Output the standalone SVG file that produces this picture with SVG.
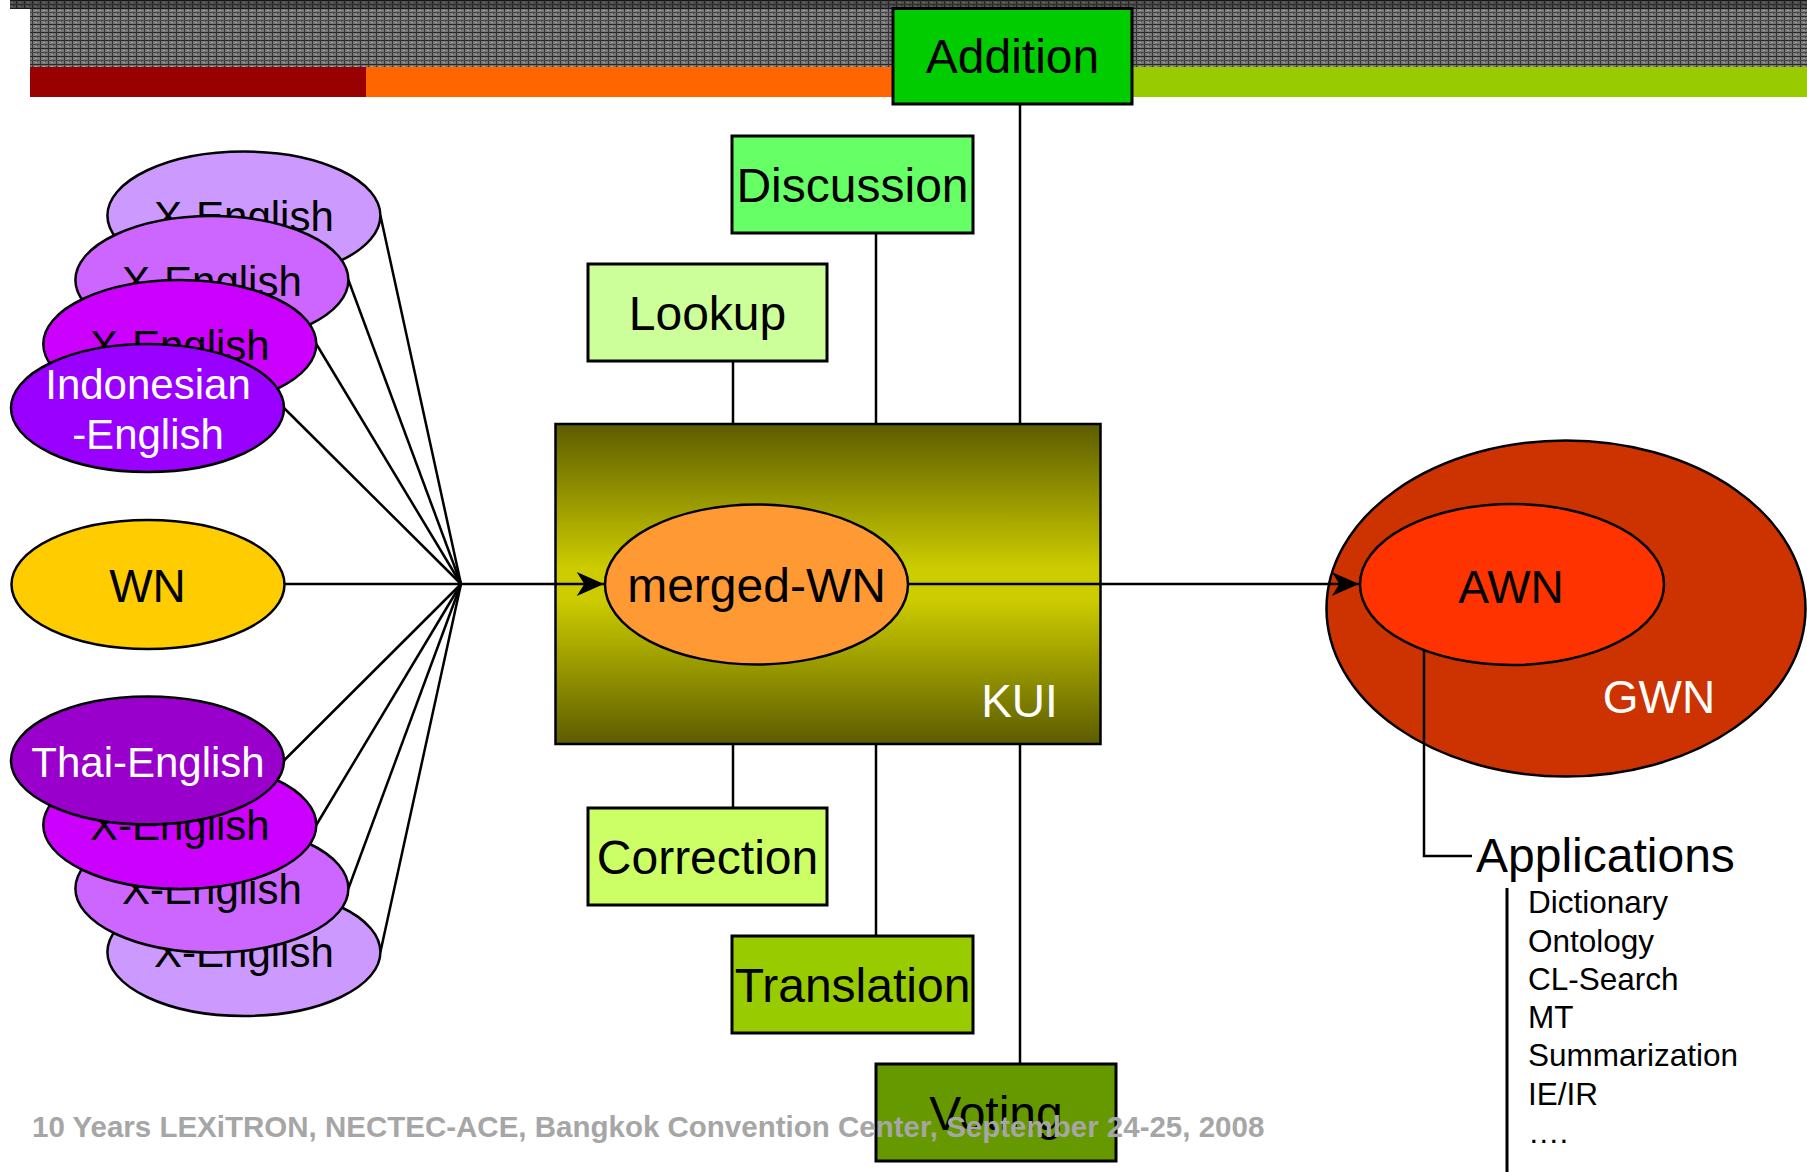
<svg xmlns="http://www.w3.org/2000/svg" width="1807" height="1172" viewBox="0 0 1807 1172">
<style>
.lbl{font-family:"Liberation Sans",Arial,sans-serif;text-anchor:middle}
.b48{font-size:48px;fill:#000}
.e42{font-size:42px}
.box{stroke:#000;stroke-width:3}
.ell{stroke:#000;stroke-width:2.5}
.con{stroke:#000;stroke-width:2.5;fill:none}
.app{font-family:"Liberation Sans",Arial,sans-serif;font-size:31.5px;fill:#000}
</style>
<defs>
<pattern id="tex" width="8" height="8" patternUnits="userSpaceOnUse">
<rect width="8" height="8" fill="#767676"/>
<rect width="8" height="1" fill="#262626"/>
<rect width="1" height="8" fill="#333333"/>
<rect y="4" width="8" height="1" fill="#4a4a4a"/>
<rect x="3" y="2" width="2" height="1" fill="#aaaaaa"/>
<rect x="3" y="6" width="2" height="1" fill="#a0a0a0"/>
<rect x="5" y="5" width="1" height="1" fill="#404040"/>
</pattern>
<linearGradient id="kui" x1="0" y1="0" x2="0" y2="1">
<stop offset="0" stop-color="#5c5c00"/>
<stop offset="0.45" stop-color="#cccc00"/>
<stop offset="0.55" stop-color="#cccc00"/>
<stop offset="1" stop-color="#5c5c00"/>
</linearGradient>
<marker id="arr" markerUnits="userSpaceOnUse" markerWidth="30" markerHeight="24" viewBox="0 0 26 22" refX="25" refY="11" orient="auto">
<path d="M0,0 L25,11 L0,22 L7,11 z" fill="#000"/>
</marker>
</defs>

<g id="header">
<rect x="10" y="0" width="1797" height="9" fill="url(#tex)"/>
<rect x="10" y="0" width="1797" height="9" fill="#000" opacity="0.35"/>
<rect x="30" y="9" width="1777" height="58" fill="url(#tex)"/>
<rect x="30" y="67" width="336" height="30" fill="#990000"/>
<rect x="366" y="67" width="527" height="30" fill="#ff6600"/>
<rect x="1133" y="67" width="674" height="30" fill="#99cc00"/>
</g>

<g id="kui">
<rect x="555.5" y="424" width="545" height="320" fill="url(#kui)" stroke="#000" stroke-width="2.5"/>
<text class="lbl" x="1019.5" y="717" font-size="46" fill="#fff">KUI</text>
</g>

<g id="gwn">
<ellipse cx="1566" cy="608.5" rx="239.5" ry="168" fill="#cc3300" class="ell"/>
<text class="lbl" x="1659" y="713" font-size="46" fill="#fff">GWN</text>
</g>

<g id="connectors">
<line class="con" x1="380.4" y1="215.5" x2="461" y2="584"/>
<line class="con" x1="348.4" y1="280" x2="461" y2="584"/>
<line class="con" x1="316.3" y1="344" x2="461" y2="584"/>
<line class="con" x1="284" y1="408" x2="461" y2="584"/>
<line class="con" x1="380.4" y1="952" x2="461" y2="584"/>
<line class="con" x1="348.4" y1="888.5" x2="461" y2="584"/>
<line class="con" x1="316.3" y1="825" x2="461" y2="584"/>
<line class="con" x1="284" y1="760.5" x2="461" y2="584"/>
<line class="con" x1="284.5" y1="584" x2="461" y2="584"/>
<line class="con" x1="461" y1="584" x2="604" y2="584" marker-end="url(#arr)"/>
<line class="con" x1="908" y1="584" x2="1359" y2="584" marker-end="url(#arr)"/>
<line class="con" x1="1020" y1="104" x2="1020" y2="424"/>
<line class="con" x1="876" y1="233" x2="876" y2="424"/>
<line class="con" x1="733" y1="361" x2="733" y2="424"/>
<line class="con" x1="733" y1="744" x2="733" y2="808"/>
<line class="con" x1="876" y1="744" x2="876" y2="936"/>
<line class="con" x1="1020" y1="744" x2="1020" y2="1064"/>
<path class="con" d="M1424,650 V856 H1472"/>
<line x1="1507" y1="888" x2="1507" y2="1172" stroke="#000" stroke-width="3"/>
</g>

<g id="addition">
<rect class="box" x="893" y="8.5" width="239" height="95.5" fill="#00cc00"/>
<text class="lbl b48" x="1012.5" y="73">Addition</text>
</g>
<g id="discussion">
<rect class="box" x="732" y="136" width="241" height="97" fill="#66ff66"/>
<text class="lbl b48" x="852.5" y="202">Discussion</text>
</g>
<g id="lookup">
<rect class="box" x="588" y="264" width="239" height="97" fill="#ccff99"/>
<text class="lbl b48" x="707.5" y="330">Lookup</text>
</g>
<g id="correction">
<rect class="box" x="588" y="808" width="239" height="97" fill="#ccff66"/>
<text class="lbl b48" x="707.5" y="874">Correction</text>
</g>
<g id="translation">
<rect class="box" x="732" y="936" width="241" height="97" fill="#99cc00"/>
<text class="lbl b48" x="852.5" y="1002">Translation</text>
</g>
<g id="voting">
<rect class="box" x="876" y="1064" width="240" height="97" fill="#669900"/>
<text class="lbl b48" x="996" y="1130">Voting</text>
</g>

<g id="merged-wn">
<ellipse class="ell" cx="756.5" cy="584.5" rx="151.5" ry="80" fill="#ff9933"/>
<text class="lbl b48" x="756.5" y="602">merged-WN</text>
</g>

<g id="awn">
<ellipse class="ell" cx="1512" cy="584.5" rx="152" ry="80.5" fill="#ff3300"/>
<text class="lbl" x="1511" y="602.5" font-size="46" fill="#000">AWN</text>
</g>

<g id="x-english-top-4">
<ellipse class="ell" cx="243.9" cy="215.5" rx="136.5" ry="64" fill="#cc99ff"/>
<text class="lbl e42" x="243.9" y="231" fill="#000">X-English</text>
</g>
<g id="x-english-top-3">
<ellipse class="ell" cx="211.9" cy="280" rx="136.5" ry="64" fill="#cc66ff"/>
<text class="lbl e42" x="211.9" y="295.5" fill="#000">X-English</text>
</g>
<g id="x-english-top-2">
<ellipse class="ell" cx="179.8" cy="344" rx="136.5" ry="64" fill="#cc00ff"/>
<text class="lbl e42" x="179.8" y="359.5" fill="#000">X-English</text>
</g>
<g id="indonesian-english">
<ellipse class="ell" cx="147.5" cy="408" rx="136.5" ry="64" fill="#9900ff"/>
<text class="lbl e42" x="148" y="399" fill="#fff">Indonesian</text>
<text class="lbl e42" x="148" y="449" fill="#fff">-English</text>
</g>

<g id="wn">
<ellipse class="ell" cx="148" cy="584.5" rx="136.5" ry="64.5" fill="#ffcc00"/>
<text class="lbl" x="147.5" y="601.5" font-size="46" fill="#000">WN</text>
</g>

<g id="x-english-bottom-4">
<ellipse class="ell" cx="243.9" cy="952" rx="136.5" ry="64" fill="#cc99ff"/>
<text class="lbl e42" x="243.9" y="967" fill="#000">X-English</text>
</g>
<g id="x-english-bottom-3">
<ellipse class="ell" cx="211.9" cy="888.5" rx="136.5" ry="64" fill="#cc66ff"/>
<text class="lbl e42" x="211.9" y="903.5" fill="#000">X-English</text>
</g>
<g id="x-english-bottom-2">
<ellipse class="ell" cx="179.8" cy="825" rx="136.5" ry="64" fill="#cc00ff"/>
<text class="lbl e42" x="179.8" y="840" fill="#000">X-English</text>
</g>
<g id="thai-english">
<ellipse class="ell" cx="147.5" cy="760.5" rx="136.5" ry="64" fill="#9900cc"/>
<text class="lbl e42" x="148" y="776.5" fill="#fff">Thai-English</text>
</g>

<g id="applications">
<text x="1476" y="872" font-family="Liberation Sans, Arial, sans-serif" font-size="48" fill="#000">Applications</text>
<text class="app" x="1528" y="913">Dictionary</text>
<text class="app" x="1528" y="952">Ontology</text>
<text class="app" x="1528" y="990">CL-Search</text>
<text class="app" x="1528" y="1028">MT</text>
<text class="app" x="1528" y="1066">Summarization</text>
<text class="app" x="1528" y="1105">IE/IR</text>
<text class="app" x="1528" y="1143">….</text>
</g>

<g id="footer">
<text x="32" y="1137" font-family="Liberation Sans, Arial, sans-serif" font-weight="bold" font-size="29.5" fill="#a6a6a6">10 Years LEXiTRON, NECTEC-ACE, Bangkok Convention Center, September 24-25, 2008</text>
</g>
</svg>
